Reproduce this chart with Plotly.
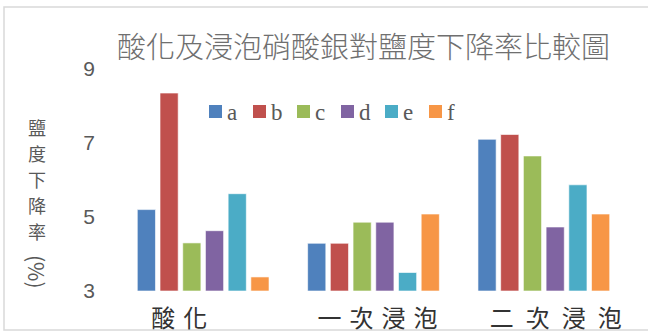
import plotly.graph_objects as go

categories = ["酸\u2004化\u2003\u2003", "\u2004一\u2004次\u2004浸\u2004泡", "\u2003二\u2002次\u2002浸\u2002泡"]
series_names = ["a", "b", "c", "d", "e", "f"]
a_vals = [5.2, 4.29, 7.1]
b_vals = [8.35, 4.29, 7.23]
c_vals = [4.3, 4.86, 6.65]
d_vals = [4.63, 4.86, 4.73]
e_vals = [5.63, 3.5, 5.87]
f_vals = [3.38, 5.08, 5.08]
colors = ["#4F81BD", "#C0504D", "#9BBB59", "#8064A2", "#4BACC6", "#F79646"]
y_ticks = [3, 5, 7, 9]
title_text = "酸化及浸泡硝酸銀對鹽度下降率比較圖"
ytitle_chars = ["鹽", "度", "下", "降", "率"]

W, H = 648, 333
L, R, T, B = 118, 19, 69, 42
PW, PH = W - L - R, H - T - B

def px(x):
    return (x - L) / PW

def py(y):
    return (H - B - y) / PH

fig = go.Figure()
for name, vals, col in zip(series_names, [a_vals, b_vals, c_vals, d_vals, e_vals, f_vals], colors):
    fig.add_trace(go.Bar(
        x=categories, y=[v - 3 for v in vals], base=3, name=name,
        marker=dict(color=col, line=dict(color="rgba(255,255,255,0.6)", width=1)),
    ))

cjk = "Noto Sans CJK TC"
annotations = [
    dict(text=title_text, x=px(612), y=py(45), xref="paper", yref="paper",
         showarrow=False, xanchor="right", yanchor="middle",
         font=dict(family=cjk, size=29, color="#6f6f6f", weight=300)),
    dict(text="(%)", x=px(37), y=py(272), xref="paper", yref="paper",
         showarrow=False, xanchor="center", yanchor="middle", textangle=90,
         font=dict(family=cjk, size=21, color="#595959")),
]
for i, ch in enumerate(ytitle_chars):
    annotations.append(dict(text=ch, x=px(37), y=py(127 + 26 * i), xref="paper", yref="paper",
                            showarrow=False, xanchor="center", yanchor="middle",
                            font=dict(family=cjk, size=18, color="#595959")))

shapes = [dict(type="rect", xref="paper", yref="paper",
               x0=px(4), x1=px(652), y0=py(330), y1=py(7),
               line=dict(color="#d9d9d9", width=1.5), layer="below")]

# manual legend
for i, (name, col) in enumerate(zip(series_names, colors)):
    x0 = 209 + 44 * i
    shapes.append(dict(type="rect", xref="paper", yref="paper",
                       x0=px(x0), x1=px(x0 + 13), y0=py(118), y1=py(105),
                       fillcolor=col, line=dict(width=0)))
    annotations.append(dict(text=name, x=px(x0 + 16), y=py(112), xref="paper", yref="paper",
                            showarrow=False, xanchor="left", yanchor="middle",
                            font=dict(family="Liberation Serif", size=23, color="#595959")))

fig.update_layout(
    width=W, height=H,
    margin=dict(l=L, r=R, t=T, b=B, autoexpand=False),
    paper_bgcolor="white", plot_bgcolor="white",
    barmode="group", bargap=0.2, bargroupgap=0.2,
    showlegend=False,
    xaxis=dict(showgrid=False, showline=False, zeroline=False, ticks="",
               automargin=False,
               tickfont=dict(family=cjk, size=24, color="#333333"),
               ticklabelstandoff=11),
    yaxis=dict(range=[3, 9], tickvals=y_ticks, showgrid=False, showline=False,
               zeroline=False, ticks="", automargin=False,
               tickfont=dict(family="Liberation Sans", size=21, color="#595959"),
               ticklabelstandoff=22),
    annotations=annotations,
    shapes=shapes,
)

fig.write_html("out.html")
